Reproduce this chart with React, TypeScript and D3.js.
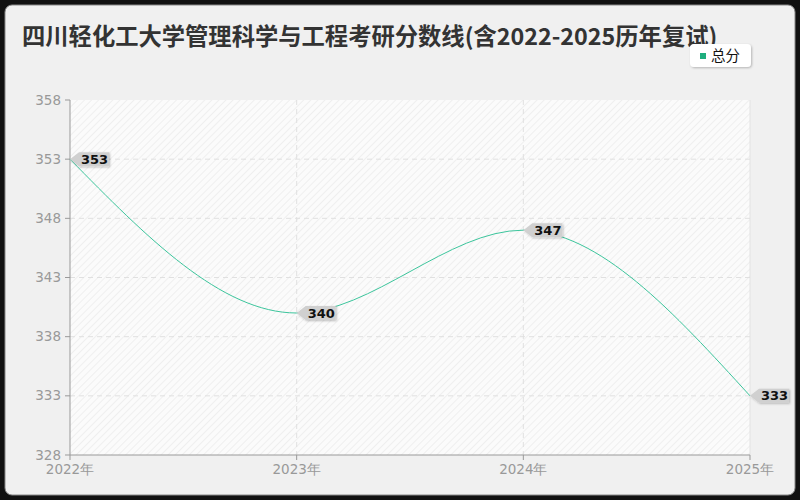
import React from 'react';
import * as d3 from 'd3';

const years = ['2022年', '2023年', '2024年', '2025年'];
const totalScores = [353, 340, 347, 333];
const yTicks = [328, 333, 338, 343, 348, 353, 358];
const seriesName = '总分';
const title = '四川轻化工大学管理科学与工程考研分数线(含2022-2025历年复试)';

const W = 800;
const H = 500;
const margin = { top: 100, right: 50, bottom: 45, left: 70 };
const lineColor = '#3cc59c';

export default function App() {
    const innerW = W - margin.left - margin.right;
    const innerH = H - margin.top - margin.bottom;

    const x = d3.scalePoint<string>().domain(years).range([margin.left, margin.left + innerW]);
    const y = d3.scaleLinear().domain([328, 358]).range([margin.top + innerH, margin.top]);

    const points = years.map((yr, i) => ({ yr, v: totalScores[i] }));
    const line = d3.line<{ yr: string; v: number }>()
        .x(d => x(d.yr) as number)
        .y(d => y(d.v))
        .curve(d3.curveMonotoneX);

    const font = '"DejaVu Sans", sans-serif';
    const cjk = '"Noto Sans CJK SC", sans-serif';

    return (
        <svg width={W} height={H} style={{ position: 'absolute', left: 0, top: 0 }}>
            <defs>
                <pattern id="hatch" width="5" height="5" patternUnits="userSpaceOnUse" patternTransform="rotate(45)">
                    <rect width="5" height="5" fill="#fbfbfb" />
                    <line x1="0" y1="0" x2="0" y2="5" stroke="#ececec" strokeWidth="1.5" />
                </pattern>
                <filter id="shadow" x="-20%" y="-30%" width="140%" height="160%">
                    <feDropShadow dx="1" dy="1" stdDeviation="1" floodColor="#000" floodOpacity="0.25" />
                </filter>
            </defs>
            <rect width={W} height={H} fill="#111" />
            <rect x={5} y={5} width={W - 10} height={H - 10} rx={7} fill="#f0f0f0" stroke="#888" strokeWidth={1} />

            <text x={22} y={45} fontFamily={cjk} fontWeight="bold" fontSize={23.3} fill="#333">
                {title}
            </text>

            {/* legend */}
            <g filter="url(#shadow)">
                <rect x={690} y={44} width={61} height={23} rx={4} fill="#fff" />
            </g>
            <rect x={700} y={53} width={6} height={6} fill="#1fae7e" />
            <text x={711} y={61} fontFamily={cjk} fontSize={14.5} fill="#111">{seriesName}</text>

            {/* plot background */}
            <rect x={margin.left} y={margin.top} width={innerW} height={innerH} fill="url(#hatch)" />
            <line x1={margin.left + innerW} x2={margin.left + innerW} y1={margin.top} y2={margin.top + innerH} stroke="#e2e2e2" />

            {/* grid */}
            {yTicks.slice(1, -1).map(t => (
                <line key={t} x1={margin.left} x2={margin.left + innerW} y1={y(t)} y2={y(t)}
                    stroke="#e0e0e0" strokeDasharray="5,4" />
            ))}
            {years.slice(1, -1).map(yr => (
                <line key={yr} x1={x(yr)} x2={x(yr)} y1={margin.top} y2={margin.top + innerH}
                    stroke="#e0e0e0" strokeDasharray="5,4" />
            ))}

            {/* y axis */}
            <line x1={margin.left} x2={margin.left} y1={margin.top} y2={margin.top + innerH} stroke="#999" />
            {yTicks.map(t => (
                <g key={t}>
                    <line x1={margin.left - 5} x2={margin.left} y1={y(t)} y2={y(t)} stroke="#999" />
                    <text x={margin.left - 9} y={y(t) + 4.5} textAnchor="end" fontFamily={font} fontSize={13.5} fill="#999">{t}</text>
                </g>
            ))}

            {/* x axis */}
            <line x1={margin.left} x2={margin.left + innerW} y1={margin.top + innerH} y2={margin.top + innerH} stroke="#999" />
            {years.map(yr => (
                <g key={yr}>
                    <line x1={x(yr)} x2={x(yr)} y1={margin.top + innerH} y2={margin.top + innerH + 5} stroke="#999" />
                    <text x={x(yr)} y={margin.top + innerH + 19} textAnchor="middle" fontFamily={font} fontSize={13.5} fill="#999">{yr}</text>
                </g>
            ))}

            {/* series */}
            <path d={line(points) ?? ''} fill="none" stroke={lineColor} strokeWidth={1} />

            {points.map(p => {
                const px = x(p.yr) as number;
                const py = y(p.v);
                const poly = [
                    [px, py], [px + 9, py - 7], [px + 39, py - 7], [px + 39, py + 7], [px + 9, py + 7]
                ].map(c => c.join(',')).join(' ');
                return (
                    <g key={p.yr}>
                        <polygon points={poly} fill="#d0d0d0" filter="url(#shadow)" />
                        <text x={px + 11} y={py + 4.5} fontFamily={font} fontWeight="bold" fontSize={13} fill="#111">{p.v}</text>
                    </g>
                );
            })}
        </svg>
    );
}
